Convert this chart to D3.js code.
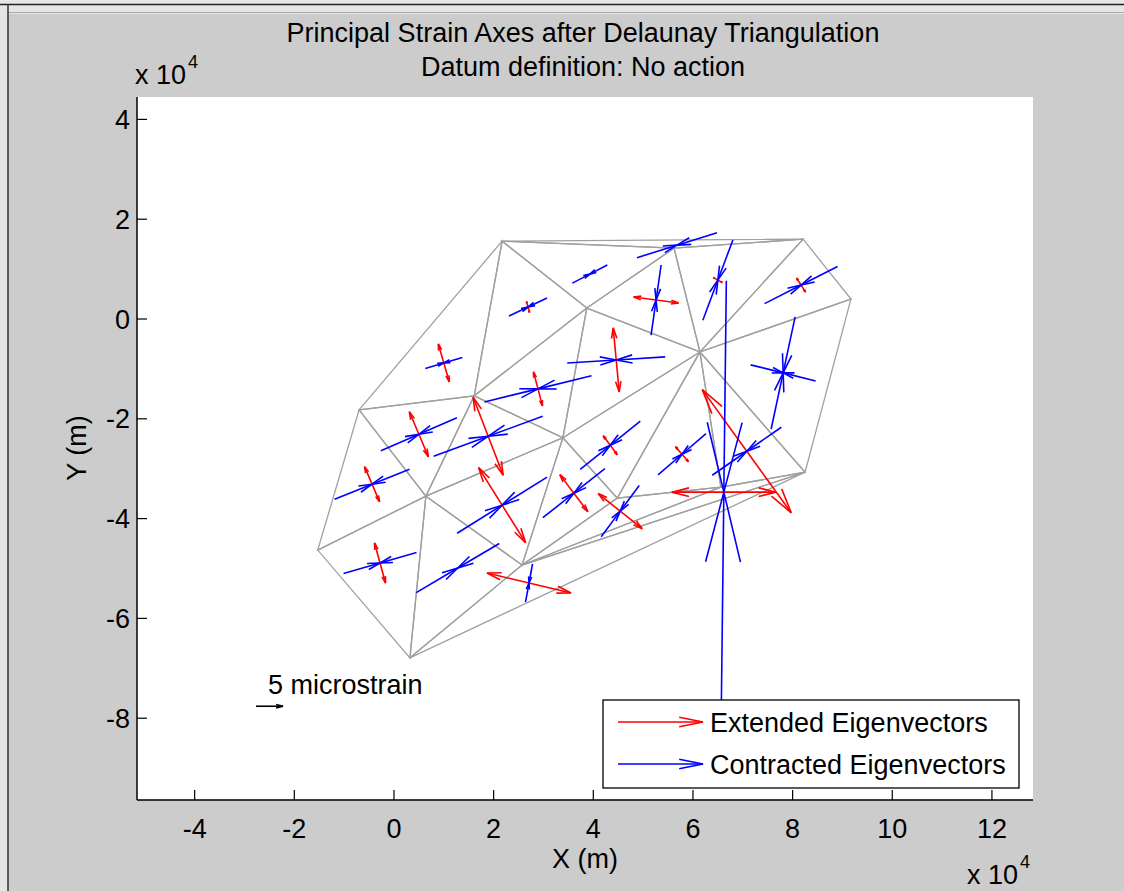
<!DOCTYPE html>
<html>
<head>
<meta charset="UTF-8">
<title>Principal Strain Axes after Delaunay Triangulation</title>
<style>
  body { margin: 0; background: #cccccc; }
  svg { display: block; }
  text { font-family: "Liberation Sans", Arial, sans-serif; fill: #000; }
</style>
</head>
<body>
<svg id="chart" width="1124" height="891"></svg>
<script src="https://d3js.org/d3.v7.min.js"></script>
<script>
// axis ticks (units of 10^4 m)
var xTicks = [-4, -2, 0, 2, 4, 6, 8, 10, 12];
var yTicks = [4, 2, 0, -2, -4, -6, -8];

// station positions (x 10^4 m)
var nodeX = [2.17, 5.62, 8.21, 9.17, 8.25, 6.14, 3.87, 1.61, -0.70, 0.64, -1.53, 0.32, 2.57, 3.39, 4.48, 6.56];
var nodeY = [1.56, 1.42, 1.60, 0.40, -3.07, -0.66, 0.22, -1.54, -1.82, -3.55, -4.63, -6.79, -4.93, -2.38, -3.59, -3.37];

// delaunay triangles (node indices)
var triangles = [
  [0, 8, 7], [0, 7, 6], [0, 6, 1], [0, 1, 2], [1, 2, 5], [1, 6, 5],
  [2, 3, 5], [3, 4, 5], [6, 7, 13], [6, 13, 5], [8, 7, 9], [7, 9, 13],
  [8, 10, 9], [10, 9, 11], [9, 11, 12], [9, 12, 13], [13, 12, 14],
  [13, 14, 5], [5, 14, 15], [5, 15, 4], [14, 12, 15], [12, 15, 4], [12, 4, 11]
];

// eigenvectors: x, y (10^4 m), u, v (microstrain)
var extended = [
  [1.00, -0.88, -1.02, 3.52],
  [2.69, 0.24, -0.28, 1.02],
  [5.26, 0.38, 4.17, -0.56],
  [6.50, 0.78, 0.83, -0.46],
  [8.17, 0.68, 0.83, -1.30],
  [4.46, -0.82, -0.56, 5.93],
  [2.89, -1.40, -0.83, 3.15],
  [1.89, -2.35, -2.78, 7.22],
  [0.50, -2.31, -1.76, 4.17],
  [-0.44, -3.31, -1.39, 3.24],
  [2.17, -3.73, -4.35, 6.94],
  [-0.28, -4.89, -1.02, 3.70],
  [2.71, -5.29, 7.78, -1.85],
  [3.61, -3.49, -2.59, 3.43],
  [4.34, -2.53, -1.30, 1.76],
  [4.54, -3.85, -4.07, 3.24],
  [5.78, -2.71, -1.20, 1.39],
  [6.62, -3.47, 9.63, 0.00],
  [7.08, -2.65, -8.24, 11.39]
];

var contracted = [
  [1.00, -0.88, 3.43, 1.02],
  [2.69, 0.24, 3.52, 1.67],
  [3.93, 0.90, 3.24, 1.67],
  [5.68, 1.48, 7.41, 2.31],
  [5.26, 0.38, 0.93, 6.48],
  [6.50, 0.78, 2.78, 7.41],
  [8.17, 0.68, 6.76, 3.43],
  [4.46, -0.82, 9.07, 0.56],
  [2.89, -1.40, 9.91, 2.41],
  [1.89, -2.35, 10.09, 3.70],
  [0.50, -2.31, 7.04, 3.06],
  [-0.44, -3.31, 6.94, 2.78],
  [2.17, -3.73, 8.33, 5.19],
  [-0.28, -4.89, 6.76, 1.94],
  [1.28, -4.99, 7.69, 4.54],
  [2.71, -5.29, 0.65, 3.52],
  [3.61, -3.49, 5.74, 4.54],
  [4.34, -2.53, 5.56, 4.44],
  [4.54, -3.85, 3.52, 4.72],
  [5.78, -2.71, 4.44, 3.80],
  [6.62, -3.47, 0.46, 39.07],
  [7.08, -2.65, 6.39, 4.44],
  [7.81, -1.08, 6.02, -1.48],
  [7.81, -1.08, 2.22, 10.37]
];

// scale bar
var scaleBar = { x: -2.77, y: -7.76, value: 5, label: "5 microstrain" };
var microToData = 0.1084; // 10^4 m per microstrain

var svg = d3.select("#chart");

// window frame
svg.append("rect").attr("x", 0).attr("y", 0).attr("width", 1124).attr("height", 891).attr("fill", "#cccccc");
svg.append("rect").attr("x", 0).attr("y", 0).attr("width", 8).attr("height", 891).attr("fill", "#e4e4e4");
svg.append("rect").attr("x", 0).attr("y", 0).attr("width", 1124).attr("height", 14).attr("fill", "#e6e6e6");
svg.append("line").attr("x1", 0).attr("x2", 1124).attr("y1", 4.5).attr("y2", 4.5).attr("stroke", "#222").attr("stroke-width", 1.5);
svg.append("line").attr("x1", 8).attr("x2", 1124).attr("y1", 12.5).attr("y2", 12.5).attr("stroke", "#a8a8a8");
svg.append("line").attr("x1", 8).attr("x2", 8).attr("y1", 4).attr("y2", 891).attr("stroke", "#333").attr("stroke-width", 1.5);

var x = d3.scaleLinear().domain([-5.157, 12.824]).range([137, 1033]);
var y = d3.scaleLinear().domain([-9.639, 4.449]).range([800, 97]);

// plot background
svg.append("rect")
  .attr("x", 137).attr("y", 97)
  .attr("width", 1033 - 137).attr("height", 800 - 97)
  .attr("fill", "#fff");

var plot = svg.append("g");

// triangulation
plot.append("g").selectAll("path")
  .data(triangles)
  .enter().append("path")
  .attr("d", function(t) {
    return "M" + t.map(function(i) { return x(nodeX[i]) + "," + y(nodeY[i]); }).join("L") + "Z";
  })
  .attr("fill", "none")
  .attr("stroke", "#a0a0a0")
  .attr("stroke-width", 1.3);

// quiver style arrow in pixel space, head at (x1, y1)
function arrow(g, x0, y0, x1, y1, color, a, b) {
  a = a || 0.33; b = b || 0.25;
  var dx = x1 - x0, dy = y1 - y0;
  g.append("line")
    .attr("x1", x0).attr("y1", y0).attr("x2", x1).attr("y2", y1)
    .attr("stroke", color).attr("stroke-width", 1.6);
  var p1 = [x1 - a * (dx + b * dy), y1 - a * (dy - b * dx)];
  var p2 = [x1 - a * (dx - b * dy), y1 - a * (dy + b * dx)];
  g.append("polyline")
    .attr("points", p1.join(",") + " " + x1 + "," + y1 + " " + p2.join(","))
    .attr("fill", "none").attr("stroke", color).attr("stroke-width", 1.6);
}

var redG = plot.append("g");
extended.forEach(function(d) {
  var cx = x(d[0]), cy = y(d[1]);
  var tx = x(d[0] + d[2] * microToData) - cx;
  var ty = y(d[1] + d[3] * microToData) - cy;
  if (tx === 0 && ty === 0) return;
  arrow(redG, cx, cy, cx + tx, cy + ty, "#ff0000");
  arrow(redG, cx, cy, cx - tx, cy - ty, "#ff0000");
});

var blueG = plot.append("g");
contracted.forEach(function(d) {
  var cx = x(d[0]), cy = y(d[1]);
  var tx = x(d[0] + d[2] * microToData) - cx;
  var ty = y(d[1] + d[3] * microToData) - cy;
  arrow(blueG, cx + tx, cy + ty, cx, cy, "#0000ff");
  arrow(blueG, cx - tx, cy - ty, cx, cy, "#0000ff");
});

// scale bar
var sbx = x(scaleBar.x), sby = y(scaleBar.y);
var sbLen = x(scaleBar.x + scaleBar.value * microToData) - sbx;
arrow(plot, sbx, sby, sbx + sbLen, sby, "#000", 0.25, 0.25);
plot.append("text")
  .attr("x", sbx + 12).attr("y", sby - 12)
  .attr("font-size", 27)
  .text(scaleBar.label);

// axes lines
svg.append("line").attr("x1", 137).attr("x2", 1033).attr("y1", 800).attr("y2", 800).attr("stroke", "#000").attr("stroke-width", 1.5);
svg.append("line").attr("x1", 137).attr("x2", 137).attr("y1", 97).attr("y2", 800).attr("stroke", "#000").attr("stroke-width", 1.5);

var xAxis = svg.append("g");
xAxis.selectAll("line").data(xTicks).enter().append("line")
  .attr("x1", function(d) { return x(d); }).attr("x2", function(d) { return x(d); })
  .attr("y1", 800).attr("y2", 790)
  .attr("stroke", "#000").attr("stroke-width", 1.2);
xAxis.selectAll("text").data(xTicks).enter().append("text")
  .attr("x", function(d) { return x(d); })
  .attr("y", 838)
  .attr("text-anchor", "middle")
  .attr("font-size", 27)
  .text(function(d) { return d; });

var yAxis = svg.append("g");
yAxis.selectAll("line").data(yTicks).enter().append("line")
  .attr("y1", function(d) { return y(d); }).attr("y2", function(d) { return y(d); })
  .attr("x1", 137).attr("x2", 147)
  .attr("stroke", "#000").attr("stroke-width", 1.2);
yAxis.selectAll("text").data(yTicks).enter().append("text")
  .attr("x", 130)
  .attr("y", function(d) { return y(d) + 9.5; })
  .attr("text-anchor", "end")
  .attr("font-size", 27)
  .text(function(d) { return d; });

// exponent labels
function exponent(px, py) {
  var t = svg.append("text").attr("x", px).attr("y", py).attr("font-size", 27);
  t.append("tspan").text("x 10");
  t.append("tspan").attr("dy", -16).attr("dx", 2).attr("font-size", 18).text("4");
}
exponent(135, 84);
exponent(967, 884);

// axis titles
svg.append("text").attr("x", 585).attr("y", 868).attr("text-anchor", "middle").attr("font-size", 27).text("X (m)");
svg.append("text").attr("transform", "translate(86,448) rotate(-90)").attr("text-anchor", "middle").attr("font-size", 27).text("Y (m)");

// title
svg.append("text").attr("x", 583).attr("y", 42).attr("text-anchor", "middle").attr("font-size", 27).text("Principal Strain Axes after Delaunay Triangulation");
svg.append("text").attr("x", 583).attr("y", 76).attr("text-anchor", "middle").attr("font-size", 27).text("Datum definition: No action");

// legend
var legendItems = [
  { label: "Extended Eigenvectors", color: "#ff0000" },
  { label: "Contracted Eigenvectors", color: "#0000ff" }
];
var legend = svg.append("g");
legend.append("rect")
  .attr("x", 603).attr("y", 700).attr("width", 416).attr("height", 88)
  .attr("fill", "#fff").attr("stroke", "#000").attr("stroke-width", 1.3);
legendItems.forEach(function(d, i) {
  var ly = 722 + i * 42;
  arrow(legend, 618, ly, 703, ly, d.color, 0.28, 0.2);
  legend.append("text").attr("x", 710).attr("y", ly + 10).attr("font-size", 27).text(d.label);
});
</script>
</body>
</html>
